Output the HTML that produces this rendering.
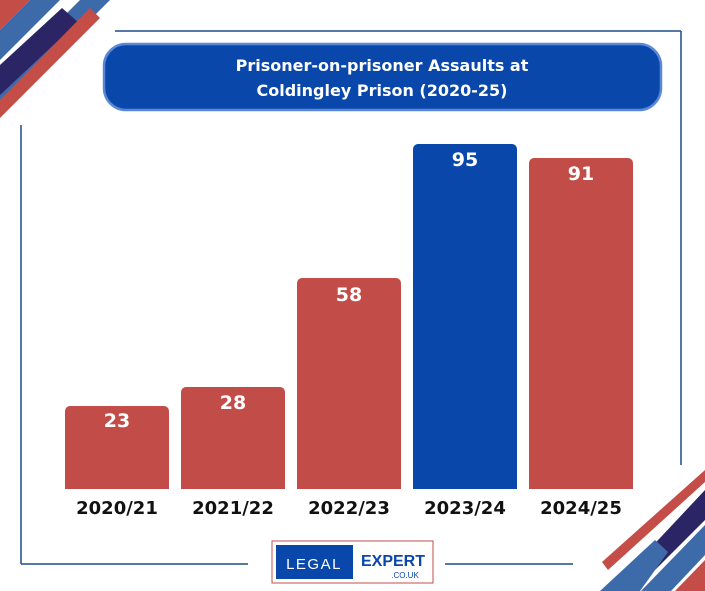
<!DOCTYPE html>
<html><head><style>
body{margin:0;background:#fff;}
svg{display:block;font-family:"DejaVu Sans","Liberation Sans",sans-serif;}
</style></head><body>
<svg width="705" height="591" viewBox="0 0 705 591">
<polygon points="0,0 30,0 0,30" fill="#c44d48"/>
<polygon points="30,0 60,0 0,60 0,30" fill="#3d6aa8"/>
<polygon points="80,0 110,0 0,110 0,80" fill="#3d6aa8"/>
<polygon points="62,8 78,22 0,95 0,65" fill="#2b2566"/>
<polygon points="90,8 100,18 0,118 0,100" fill="#c44d48"/>
<polygon points="705,470 705,482 608,570 602,562" fill="#c44d48"/>
<polygon points="705,490 705,520 655,570 630,570" fill="#2b2566"/>
<polygon points="655,540 668,552 640,591 600,591" fill="#3d6aa8"/>
<polygon points="705,525 705,555 671,591 641,591" fill="#3d6aa8"/>
<polygon points="705,560 705,591 675,591" fill="#c44d48"/>
<g stroke="#1f4c8a" stroke-width="1.5">
<line x1="115" y1="31" x2="681" y2="31"/>
<line x1="681" y1="31" x2="681" y2="465"/>
<line x1="21" y1="125" x2="21" y2="564"/>
<line x1="21" y1="564" x2="248" y2="564"/>
<line x1="445" y1="564" x2="573" y2="564"/>
</g>
<rect x="104" y="44" width="557" height="66" rx="22" fill="#0a47ab" stroke="#5a88d6" stroke-width="2.5"/>
<text x="382" y="71" text-anchor="middle" fill="#fff" font-size="16" font-weight="bold">Prisoner-on-prisoner Assaults at</text>
<text x="382" y="96" text-anchor="middle" fill="#fff" font-size="16" font-weight="bold">Coldingley Prison (2020-25)</text>
<g>
<path d="M65,489 V411 a5,5 0 0 1 5,-5 H164 a5,5 0 0 1 5,5 V489Z" fill="#c24c47"/>
<path d="M181,489 V392 a5,5 0 0 1 5,-5 H280 a5,5 0 0 1 5,5 V489Z" fill="#c24c47"/>
<path d="M297,489 V283 a5,5 0 0 1 5,-5 H396 a5,5 0 0 1 5,5 V489Z" fill="#c24c47"/>
<path d="M413,489 V149 a5,5 0 0 1 5,-5 H512 a5,5 0 0 1 5,5 V489Z" fill="#0a47ab"/>
<path d="M529,489 V163 a5,5 0 0 1 5,-5 H628 a5,5 0 0 1 5,5 V489Z" fill="#c24c47"/>
</g>
<g fill="#fff" font-size="19" font-weight="bold" text-anchor="middle">
<text x="117" y="427">23</text>
<text x="233" y="409">28</text>
<text x="349" y="301">58</text>
<text x="465" y="166">95</text>
<text x="581" y="180">91</text>
</g>
<g fill="#111" font-size="18" font-weight="bold" text-anchor="middle">
<text x="117" y="514">2020/21</text>
<text x="233" y="514">2021/22</text>
<text x="349" y="514">2022/23</text>
<text x="465" y="514">2023/24</text>
<text x="581" y="514">2024/25</text>
</g>
<rect x="272" y="541" width="161" height="42" fill="#fff" stroke="#c44d48" stroke-width="1"/>
<rect x="276" y="545" width="77" height="34" fill="#0a47ab"/>
<text x="314" y="569" text-anchor="middle" fill="#fff" font-size="15" font-family="Liberation Sans" letter-spacing="1.5">LEGAL</text>
<text x="393" y="566" text-anchor="middle" fill="#0a47ab" font-size="16" font-weight="bold" font-family="Liberation Sans">EXPERT</text>
<text x="405" y="578" text-anchor="middle" fill="#0a47ab" font-size="8" font-family="Liberation Sans">.CO.UK</text>
</svg>
</body></html>
